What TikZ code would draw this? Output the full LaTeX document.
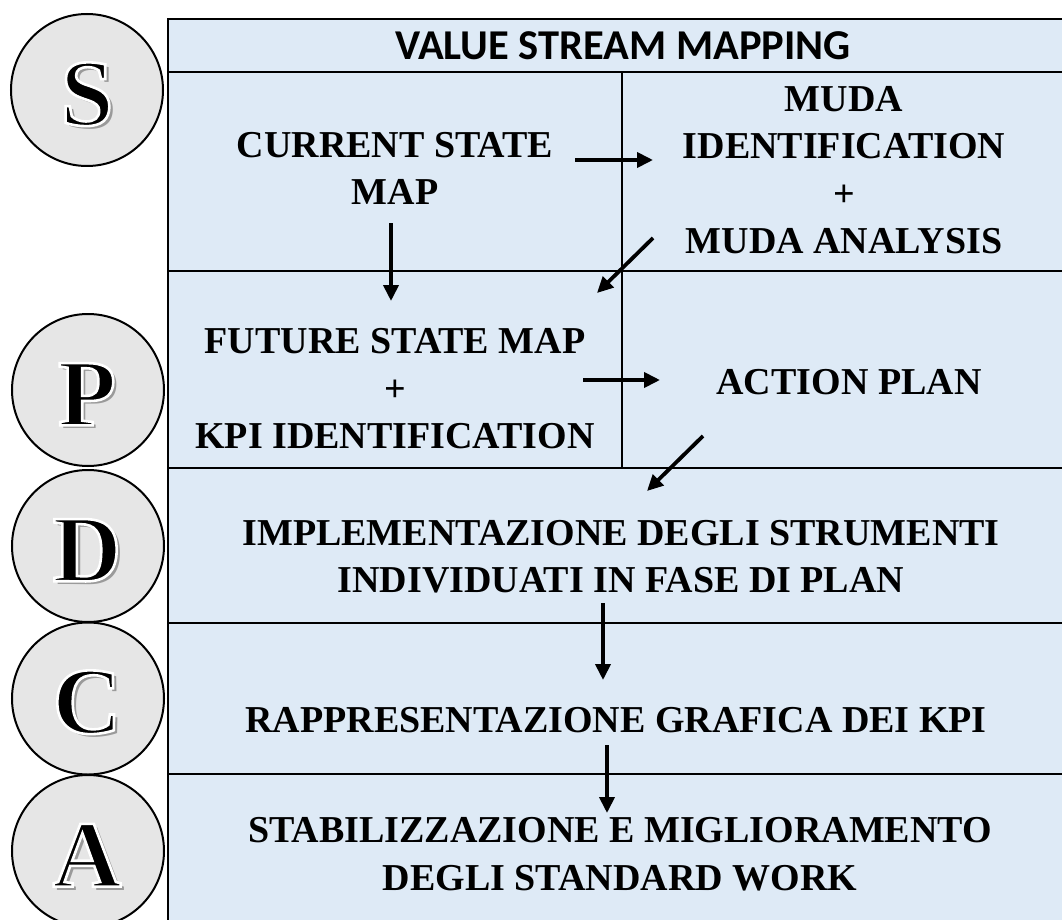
\documentclass[tikz,border=0pt]{standalone}
\usepackage{fontspec}
\setmainfont{Liberation Serif}
\newfontfamily\headfont{Carlito}
\usetikzlibrary{arrows.meta}

\definecolor{cellblue}{HTML}{DEEAF6}
\definecolor{discgrey}{HTML}{E6E6E6}
\definecolor{shadowgrey}{HTML}{9A9A9A}

% one copy of a glyph shifted by (#1,#2), taking no width
\newcommand\glyphlayer[3]{\makebox[0pt]{\hspace*{#1}\raisebox{#2}{#3}\hspace*{-#1}}}
% capital letter: black fill, white outline, grey drop shadow
\newcommand\letterfx[1]{%
  \glyphlayer{3.5pt}{-3.5pt}{\color{shadowgrey}#1}%
  \glyphlayer{0pt}{0pt}{\color{black}\special{pdf:literal direct 2 Tr 2.6 w 1 G}#1\special{pdf:literal direct 0 Tr 0.4 w 0 G}}}

\begin{document}
\begin{tikzpicture}[x=1pt,y=-1pt,
  grid/.style={line width=2pt},
  disc/.style={circle,draw,line width=2pt,fill=discgrey,minimum size=152pt,inner sep=0pt},
  phase/.style={font=\bfseries\fontsize{95}{95}\selectfont,inner sep=0pt},
  cell/.style={font=\bfseries\fontsize{38}{47.5}\selectfont,align=center,inner sep=0pt},
  title/.style={font=\headfont\bfseries\fontsize{42.5}{42.5}\selectfont,inner sep=0pt},
  flow/.style={line width=3.8pt,-{Triangle[length=16pt,width=15pt]}}]
\useasboundingbox (0,0) rectangle (1062,920);
\clip (0,0) rectangle (1062,920);

% table background and rules
\fill[cellblue] (168,19) rectangle (1070,930);
\draw[grid] (1070,19) -- (168,19) -- (168,930);
\draw[grid] (168,72) -- (1070,72);
\draw[grid] (168,271) -- (1070,271);
\draw[grid] (168,468) -- (1070,468);
\draw[grid] (168,623) -- (1070,623);
\draw[grid] (168,774) -- (1070,774);
\draw[grid] (622,72) -- (622,468);

% PDCA discs
\node[disc] (discS) at (87,90) {};
\node[disc] (discP) at (88,390) {};
\node[disc] (discD) at (88,546) {};
\node[disc] (discC) at (88,698.5) {};
\node[disc] (discA) at (88,851) {};
\node[phase] (letS) at (87,96) {\letterfx{S}};
\node[phase] (letP) at (87,396) {\letterfx{P}};
\node[phase] (letD) at (87,552) {\letterfx{D}};
\node[phase] (letC) at (87,704) {\letterfx{C}};
\node[phase] (letA) at (87,857) {\letterfx{A}};

% cell texts
\node[title] (vsm) at (623,46) {VALUE STREAM MAPPING};
\node[cell] (current) at (395,168.5) {CURRENT STATE\\MAP};
\node[cell] (muda) at (844,170) {MUDA\\IDENTIFICATION\\+\\MUDA ANALYSIS};
\node[cell] (future) at (395,389) {FUTURE STATE MAP\\+\\KPI IDENTIFICATION};
\node[cell] (action) at (849,382.5) {ACTION PLAN};
\node[cell] (impl) at (621,556.5) {IMPLEMENTAZIONE DEGLI STRUMENTI\\INDIVIDUATI IN FASE DI PLAN};
\node[cell] (graph) at (616,720.5) {RAPPRESENTAZIONE GRAFICA DEI KPI};
\node[cell] (stab) at (620,854) {STABILIZZAZIONE E MIGLIORAMENTO\\DEGLI STANDARD WORK};

% arrow ends
\coordinate (a1s) at (575,160);  \coordinate (a1e) at (653,160);
\coordinate (a2s) at (391,223);  \coordinate (a2e) at (391,301);
\coordinate (a3s) at (653,238);  \coordinate (a3e) at (597,293);
\coordinate (a4s) at (583,380);  \coordinate (a4e) at (660,380);
\coordinate (a5s) at (703,436);  \coordinate (a5e) at (647,491);
\coordinate (a6s) at (603,603);  \coordinate (a6e) at (603,680);
\coordinate (a7s) at (607,745);  \coordinate (a7e) at (607,813);

\draw[flow] (a1s) -- (a1e);
\draw[flow] (a2s) -- (a2e);
\draw[flow] (a3s) -- (a3e);
\draw[flow] (a4s) -- (a4e);
\draw[flow] (a5s) -- (a5e);
\draw[flow] (a6s) -- (a6e);
\draw[flow] (a7s) -- (a7e);
\end{tikzpicture}
\end{document}
